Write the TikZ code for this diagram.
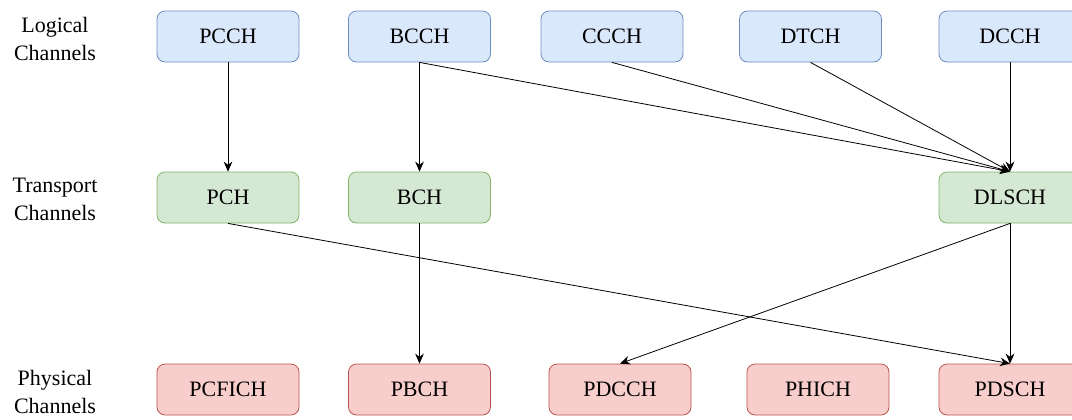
\documentclass[tikz,border=0pt]{standalone}
\usepackage{fontspec}
\setmainfont{Liberation Serif}
\usetikzlibrary{arrows.meta}
\definecolor{lfill}{HTML}{DAE8FC}\definecolor{lline}{HTML}{6C8EBF}
\definecolor{tfill}{HTML}{D5E8D4}\definecolor{tline}{HTML}{82B366}
\definecolor{pfill}{HTML}{F8CECC}\definecolor{pline}{HTML}{B85450}
\begin{document}
\begin{tikzpicture}[x=0.75pt,y=-0.75pt,
  chan/.style={rounded corners=6pt,minimum width=106.5pt,minimum height=38.25pt,
    inner sep=0pt,font=\fontsize{16.5}{20}\selectfont,line width=0.6pt},
  logical/.style={chan,fill=lfill,draw=lline},
  transport/.style={chan,fill=tfill,draw=tline},
  physical/.style={chan,fill=pfill,draw=pline},
  rowlabel/.style={align=center,font=\fontsize{16.5}{21}\selectfont},
  link/.style={-{Stealth[length=7.5pt,width=6.5pt]},line width=0.6pt}]
\useasboundingbox (0,0) rectangle (1072,419);
% row labels
\node[rowlabel] (lablog) at (55,38.5) {Logical\\Channels};
\node[rowlabel] (labtra) at (55,199.5) {Transport\\Channels};
\node[rowlabel] (labphy) at (55,392) {Physical\\Channels};
% logical channels
\node[logical] (pcch) at (228,36.5) {PCCH};
\node[logical] (bcch) at (419.5,36.5) {BCCH};
\node[logical] (ccch) at (612,36.5) {CCCH};
\node[logical] (dtch) at (810.5,36.5) {DTCH};
\node[logical] (dcch) at (1010,36.5) {DCCH};
% transport channels
\node[transport] (pch) at (228,197.5) {PCH};
\node[transport] (bch) at (419.5,197.5) {BCH};
\node[transport] (dlsch) at (1010,197.5) {DLSCH};
% physical channels
\node[physical] (pcfich) at (228,389.5) {PCFICH};
\node[physical] (pbch) at (419.5,389.5) {PBCH};
\node[physical] (pdcch) at (620,389.5) {PDCCH};
\node[physical] (phich) at (818,389.5) {PHICH};
\node[physical] (pdsch) at (1010,389.5) {PDSCH};
% logical -> transport
\draw[link] (pcch.south) -- (pch.north);
\draw[link] (bcch.south) -- (bch.north);
\draw[link] (bcch.south) -- (dlsch.north);
\draw[link] (ccch.south) -- (dlsch.north);
\draw[link] (dtch.south) -- (dlsch.north);
\draw[link] (dcch.south) -- (dlsch.north);
% transport -> physical
\draw[link] (pch.south) -- (pdsch.north);
\draw[link] (bch.south) -- (pbch.north);
\draw[link] (dlsch.south) -- (pdcch.north);
\draw[link] (dlsch.south) -- (pdsch.north);
\end{tikzpicture}
\end{document}
